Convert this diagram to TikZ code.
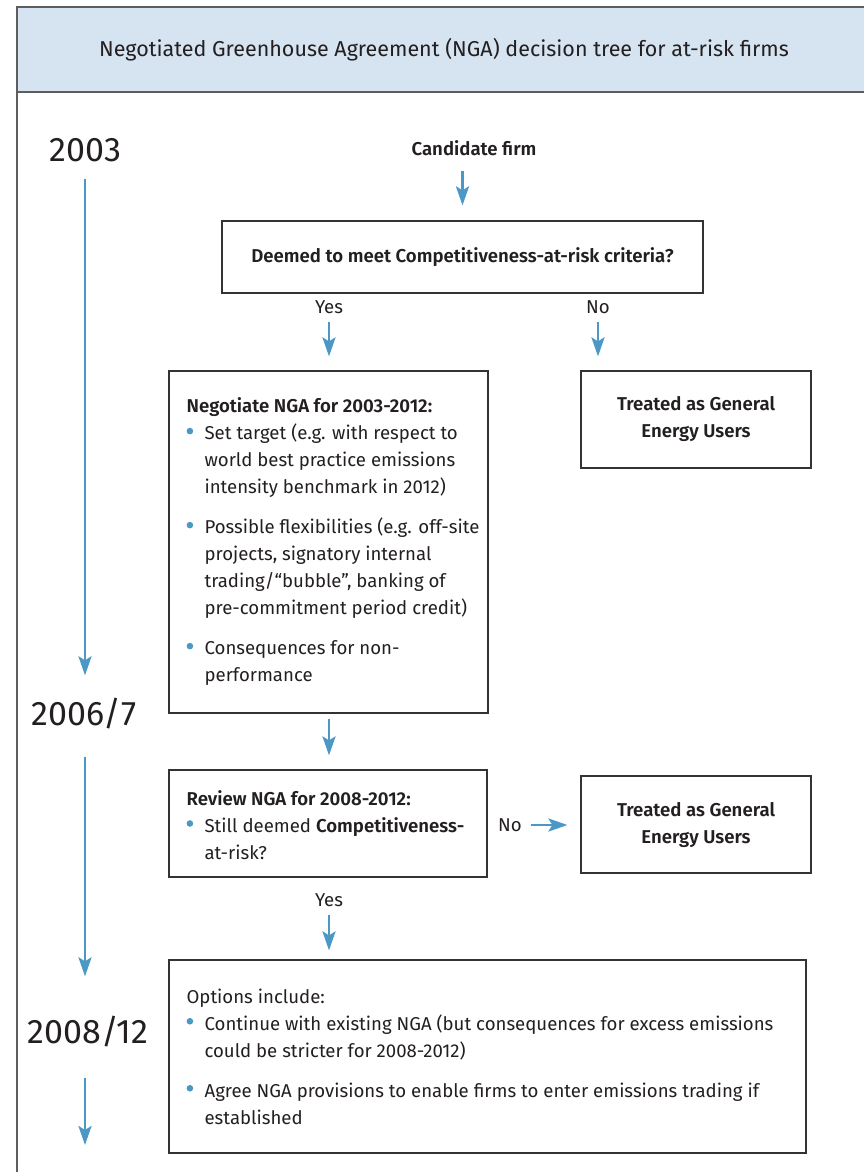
\documentclass[tikz,border=0pt]{standalone}
\usepackage{fontspec}
\IfFontExistsTF{Fira Sans SemiBold}
  {\setmainfont{Fira Sans}[BoldFont={Fira Sans SemiBold}]}
  {\setmainfont{Fira Sans}}
\usetikzlibrary{arrows.meta}
\definecolor{hdr}{HTML}{D6E3F0}
\definecolor{ab}{HTML}{4B97C5}
\definecolor{framec}{HTML}{5E5E5E}
\definecolor{boxc}{HTML}{333333}
\definecolor{tc}{HTML}{231F20}
\newcommand\bodyf{\fontsize{18.6}{27}\selectfont}
\newcommand\bul{\makebox[18pt][l]{\raisebox{0.3em}{\tikz\fill[ab] (0,0) circle (3.3pt);}}}
\newcommand\ind{\hspace*{18pt}}
\begin{document}
\begin{tikzpicture}[x=1pt,y=-1pt,
  box/.style={draw=boxc, line width=1.2pt, rectangle, inner sep=0pt},
  arr/.style={draw=ab, line width=2.8pt, -{Stealth[length=19pt,width=13pt,inset=4pt]}},
  txt/.style={inner sep=0pt, align=left, text=tc, font=\bodyf},
  ctxt/.style={inner sep=0pt, align=center, text=tc, font=\bodyf\bfseries},
  lbl/.style={inner sep=0pt, text=tc, font=\bodyf},
  year/.style={inner sep=0pt, text=tc, font=\fontsize{34}{40}\selectfont}]
\useasboundingbox (0,0) rectangle (863,1172);
% frame and header
\fill[hdr] (17,7) rectangle (880,92);
\draw[framec, line width=1.8pt] (880,7) -- (17,7) -- (17,1180);
\draw[framec, line width=1.8pt] (17,92) -- (880,92);
\node[inner sep=0pt, text=tc, font=\fontsize{21.5}{26}\selectfont] (title) at (444,50)
  {Negotiated Greenhouse Agreement (NGA) decision tree for at-risk firms};
% years
\node[year] (y2003) at (85.5,150) {2003};
\node[year] (y2006) at (84,714) {2006/7};
\node[year] (y2008) at (88,1032) {2008/12};
\coordinate (tl) at (85,1145);
\draw[arr, shorten <=17pt, shorten >=23pt] (y2003.south -| tl) -- (y2006.north -| tl);
\draw[arr, shorten <=27pt, shorten >=40pt] (y2006.south -| tl) -- (y2008.north -| tl);
\draw[arr, shorten <=30pt] (y2008.south -| tl) -- (tl);
% boxes
\node[ctxt] (cand) at (474,148) {Candidate firm};
\node[box, minimum width=481, minimum height=72] (b1) at (462.5,257) {};
\node[ctxt] (t1) at (b1.center) {Deemed to meet Competitiveness-at-risk criteria?};
\node[lbl] (yes1) at (329,307) {Yes};
\node[lbl] (no1) at (598,307) {No};
\node[box, minimum width=319, minimum height=342] (b2) at (328.5,542) {};
\node[txt, anchor=west] (t2) at ([xshift=18pt]b2.west) {%
  {\bfseries Negotiate NGA for 2003-2012:}\\
  \bul Set target (e.g. with respect to\\
  \ind world best practice emissions\\
  \ind intensity benchmark in 2012)\\[13pt]
  \bul Possible flexibilities (e.g. off-site\\
  \ind projects, signatory internal\\
  \ind trading/“bubble”, banking of\\
  \ind pre-commitment period credit)\\[13pt]
  \bul Consequences for non-\\
  \ind performance};
\node[box, minimum width=230, minimum height=97] (b3) at (696,419.5) {};
\node[ctxt] (t3) at (b3.center) {Treated as General\\Energy Users};
\node[box, minimum width=318, minimum height=107] (b4) at (328,823.5) {};
\node[txt, anchor=west] (t4) at ([xshift=18pt,yshift=-1.5pt]b4.west) {%
  {\bfseries Review NGA for 2008-2012:}\\
  \bul Still deemed {\bfseries Competitiveness-}\\
  \ind at-risk?};
\node[lbl] (no2) at (510,825) {No};
\node[box, minimum width=230, minimum height=97] (b5) at (696,824.5) {};
\node[ctxt] (t5) at (b5.center) {Treated as General\\Energy Users};
\node[lbl] (yes2) at (329,900) {Yes};
\node[box, minimum width=637, minimum height=193] (b6) at (487.5,1056.5) {};
\node[txt, anchor=west] (t6) at ([xshift=18pt]b6.west) {%
  Options include:\\
  \bul Continue with existing NGA (but consequences for excess emissions\\
  \ind could be stricter for 2008-2012)\\[13pt]
  \bul Agree NGA provisions to enable firms to enter emissions trading if\\
  \ind established};
% connectors
\draw[arr, shorten <=15pt, shorten >=15pt] (b1.north |- cand.south) -- (b1.north);
\draw[arr, shorten <=8pt, shorten >=14pt] (yes1.south) -- (yes1.south |- b2.north);
\draw[arr, shorten <=8pt, shorten >=14pt] (no1.south) -- (no1.south |- b3.north);
\draw[arr, shorten <=5pt, shorten >=14pt] (b2.south -| yes1) -- (b4.north -| yes1);
\draw[arr, shorten <=9pt, shorten >=13pt] (no2.east) -- (no2.east -| b5.west);
\draw[arr, shorten <=8pt, shorten >=9pt] (yes2.south) -- (yes2.south |- b6.north);
\end{tikzpicture}
\end{document}
